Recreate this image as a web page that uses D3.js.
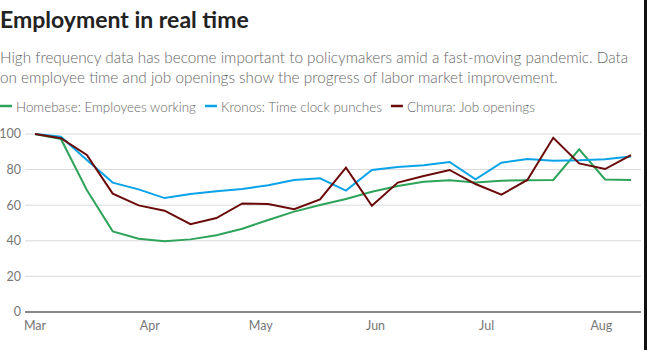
<!DOCTYPE html>
<html>
<head>
<meta charset="utf-8">
<script src="https://cdn.jsdelivr.net/npm/d3@7"></script>
<style>
  html, body { margin: 0; padding: 0; background: #fff; }
  body { width: 647px; height: 350px; overflow: hidden; }
  text { font-family: "Source Sans Pro", Lato, "Noto Sans", sans-serif; }
</style>
</head>
<body>
<div id="chart"></div>
<script>
// weekly observations, index Mar 1 = 100
const startDate = "2020-03-01"
const homebase = [100, 97.2, 68.5, 45.3, 41.2, 39.7, 40.8, 43.1, 46.8, 51.7, 56.4, 60.1,
    63.5, 67.6, 70.8, 73.2, 74.0, 72.8, 73.8, 74.0, 74.2, 91.4, 74.5, 74.2]
const kronos = [100, 98.5, 85.4, 72.7, 68.9, 64.0, 66.3, 67.8, 69.1, 71.2, 74.2, 75.1,
    68.2, 79.8, 81.5, 82.4, 84.3, 74.5, 83.9, 86.0, 85.0, 85.2, 85.8, 87.3]
const chmura = [100, 97.6, 88.2, 66.5, 59.9, 56.9, 49.3, 52.8, 61.0, 60.7, 57.7, 63.3,
    81.1, 59.7, 72.7, 76.4, 79.8, 71.9, 65.9, 74.2, 97.9, 83.5, 80.3, 88.2]
const seriesNames = ["Homebase: Employees working", "Kronos: Time clock punches", "Chmura: Job openings"]
const seriesColors = ["#2ea35a", "#0aa3e8", "#6b0a0a"]
const yTicks = [0, 20, 40, 60, 80, 100]
const monthTicks = ["2020-03-01", "2020-04-01", "2020-05-01", "2020-06-01", "2020-07-01", "2020-08-01"]

const width = 647, height = 350
const parse = d3.utcParse("%Y-%m-%d")
const t0 = parse(startDate)
const dates = homebase.map((d, i) => d3.utcDay.offset(t0, i * 7))

const svg = d3.select("#chart").append("svg")
    .attr("width", width)
    .attr("height", height)

// title + subtitle
svg.append("text")
    .attr("x", 0).attr("y", 28)
    .style("font-size", "23px")
    .style("font-weight", "700")
    .style("fill", "#222")
    .text("Employment in real time")

const sub = ["High frequency data has become important to policymakers amid a fast-moving pandemic. Data",
    "on employee time and job openings show the progress of labor market improvement."]
sub.forEach((s, i) => {
    svg.append("text")
        .attr("x", 0).attr("y", 63 + i * 19.5)
        .style("font-size", "15.3px")
        .style("fill", "#666")
        .style("font-weight", "300")
        .text(s)
})

// legend, each entry placed after the previous one
let lx = 0
seriesNames.forEach((name, i) => {
    const g = svg.append("g").attr("transform", `translate(${lx},106)`)
    g.append("line")
        .attr("x1", 0).attr("x2", 12)
        .attr("stroke", seriesColors[i]).attr("stroke-width", 2.5)
    const t = g.append("text")
        .attr("x", 16).attr("y", 6)
        .style("font-size", "13.4px")
        .style("fill", "#666")
        .style("font-weight", "300")
        .text(name)
    lx += 16 + t.node().getComputedTextLength() + 9
})

// scales
const x = d3.scaleUtc()
    .domain([t0, dates[dates.length - 1]])
    .range([35, 631])
const y = d3.scaleLinear()
    .domain([0, 100])
    .range([312, 134])

const gridLeft = 25, gridRight = 641

// gridlines
svg.append("g")
    .selectAll("line")
    .data(yTicks.filter(d => d !== 0))
    .join("line")
    .attr("x1", gridLeft).attr("x2", gridRight)
    .attr("y1", d => y(d)).attr("y2", d => y(d))
    .attr("stroke", "#dadada")
    .attr("stroke-width", 1)

// y labels
svg.append("g")
    .selectAll("text")
    .data(yTicks)
    .join("text")
    .attr("x", 21)
    .attr("y", d => y(d))
    .attr("dy", "0.35em")
    .attr("text-anchor", "end")
    .style("font-size", "12.5px")
    .style("fill", "#777")
    .text(d => d)

// x axis labels
svg.append("g")
    .selectAll("text")
    .data(monthTicks.map(parse))
    .join("text")
    .attr("x", d => x(d))
    .attr("y", 330)
    .attr("text-anchor", "middle")
    .style("font-size", "12.5px")
    .style("fill", "#777")
    .text(d3.utcFormat("%b"))

// lines
const line = d3.line()
    .x((d, i) => x(dates[i]))
    .y(d => y(d))

const allSeries = [homebase, kronos, chmura]
allSeries.forEach((vals, i) => {
    svg.append("path")
        .datum(vals)
        .attr("fill", "none")
        .attr("stroke", seriesColors[i])
        .attr("stroke-width", 2)
        .attr("stroke-linejoin", "miter")
        .attr("d", line)
})

// zero baseline
svg.append("line")
    .attr("x1", gridLeft).attr("x2", gridRight)
    .attr("y1", y(0)).attr("y2", y(0))
    .attr("stroke", "#888")
    .attr("stroke-width", 2)

// dark edge at right of the frame
svg.append("rect")
    .attr("x", 644).attr("y", 0)
    .attr("width", 3).attr("height", height)
    .attr("fill", "#111")
</script>
</body>
</html>
